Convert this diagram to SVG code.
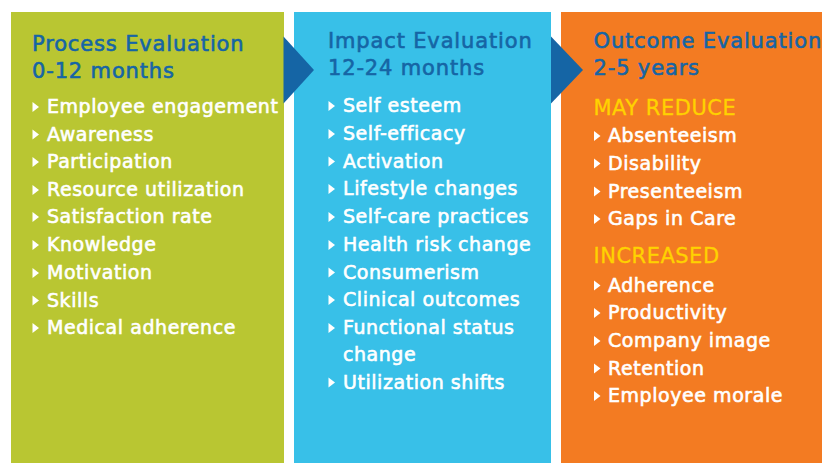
<svg xmlns="http://www.w3.org/2000/svg" width="822" height="463" viewBox="0 0 822 463">
<defs>
<style>
.hd{font-family:"DejaVu Sans","Liberation Sans",sans-serif;font-size:21px;fill:#1665A5;stroke:#1665A5;stroke-width:0.6px;letter-spacing:0.85px}
.it{font-family:"DejaVu Sans","Liberation Sans",sans-serif;font-size:19px;fill:#FFFFFF;stroke:#FFFFFF;stroke-width:0.6px;letter-spacing:0.55px}
.sub{font-family:"DejaVu Sans","Liberation Sans",sans-serif;font-size:21px;fill:#FFD200;stroke:#FFD200;stroke-width:0.3px;letter-spacing:0.5px}
.bul{fill:#FFFFFF}
.arr{fill:#1565A5}
</style>
<path id="b" d="M0,-11 L6.5,-6 L0,-1 Z"/>
</defs>
<rect width="822" height="463" fill="#FFFFFF"/>
<g id="process">
<rect x="11" y="12" width="273" height="451" fill="#B9C632"/>
<text class="hd" x="32" y="50.5">Process Evaluation</text>
<text class="hd" x="32" y="78">0-12 months</text>
<g class="bul">
<use href="#b" x="32.5" y="113"/><use href="#b" x="32.5" y="140.5"/><use href="#b" x="32.5" y="168"/>
<use href="#b" x="32.5" y="196"/><use href="#b" x="32.5" y="223"/><use href="#b" x="32.5" y="251"/>
<use href="#b" x="32.5" y="279"/><use href="#b" x="32.5" y="306.5"/><use href="#b" x="32.5" y="334"/>
</g>
<text class="it" x="47" y="113">Employee engagement</text>
<text class="it" x="47" y="140.5">Awareness</text>
<text class="it" x="47" y="168">Participation</text>
<text class="it" x="47" y="196">Resource utilization</text>
<text class="it" x="47" y="223">Satisfaction rate</text>
<text class="it" x="47" y="251">Knowledge</text>
<text class="it" x="47" y="279">Motivation</text>
<text class="it" x="47" y="306.5">Skills</text>
<text class="it" x="47" y="334">Medical adherence</text>
</g>
<g id="impact">
<rect x="294" y="12" width="257" height="451" fill="#38C0E8"/>
<text class="hd" x="328" y="47.5">Impact Evaluation</text>
<text class="hd" x="328" y="74.5">12-24 months</text>
<g class="bul">
<use href="#b" x="328.5" y="112"/><use href="#b" x="328.5" y="140"/><use href="#b" x="328.5" y="167.5"/>
<use href="#b" x="328.5" y="195"/><use href="#b" x="328.5" y="223"/><use href="#b" x="328.5" y="251"/>
<use href="#b" x="328.5" y="278.5"/><use href="#b" x="328.5" y="306"/><use href="#b" x="328.5" y="334"/>
<use href="#b" x="328.5" y="388.5"/>
</g>
<text class="it" x="343" y="112">Self esteem</text>
<text class="it" x="343" y="140">Self-efficacy</text>
<text class="it" x="343" y="167.5">Activation</text>
<text class="it" x="343" y="195">Lifestyle changes</text>
<text class="it" x="343" y="223">Self-care practices</text>
<text class="it" x="343" y="251">Health risk change</text>
<text class="it" x="343" y="278.5">Consumerism</text>
<text class="it" x="343" y="306">Clinical outcomes</text>
<text class="it" x="343" y="334">Functional status</text>
<text class="it" x="343" y="361">change</text>
<text class="it" x="343" y="388.5">Utilization shifts</text>
</g>
<g id="outcome">
<rect x="561" y="12" width="261" height="451" fill="#F37B22"/>
<text class="hd" x="593.5" y="47.5">Outcome Evaluation</text>
<text class="hd" x="593.5" y="74.5">2-5 years</text>
<text class="sub" x="593.5" y="115">MAY REDUCE</text>
<text class="sub" x="593.5" y="263">INCREASED</text>
<g class="bul">
<use href="#b" x="594" y="142"/><use href="#b" x="594" y="169.5"/><use href="#b" x="594" y="197.5"/>
<use href="#b" x="594" y="225"/><use href="#b" x="594" y="291.5"/><use href="#b" x="594" y="319"/>
<use href="#b" x="594" y="347"/><use href="#b" x="594" y="374.5"/><use href="#b" x="594" y="402"/>
</g>
<text class="it" x="608" y="142">Absenteeism</text>
<text class="it" x="608" y="169.5">Disability</text>
<text class="it" x="608" y="197.5">Presenteeism</text>
<text class="it" x="608" y="225">Gaps in Care</text>
<text class="it" x="608" y="291.5">Adherence</text>
<text class="it" x="608" y="319">Productivity</text>
<text class="it" x="608" y="347">Company image</text>
<text class="it" x="608" y="374.5">Retention</text>
<text class="it" x="608" y="402">Employee morale</text>
</g>
<g id="connectors">
<polygon class="arr" points="283.5,36.5 314,70 283.5,103.5"/>
<polygon class="arr" points="551,36.5 583,70 551,103.5"/>
</g>
</svg>
